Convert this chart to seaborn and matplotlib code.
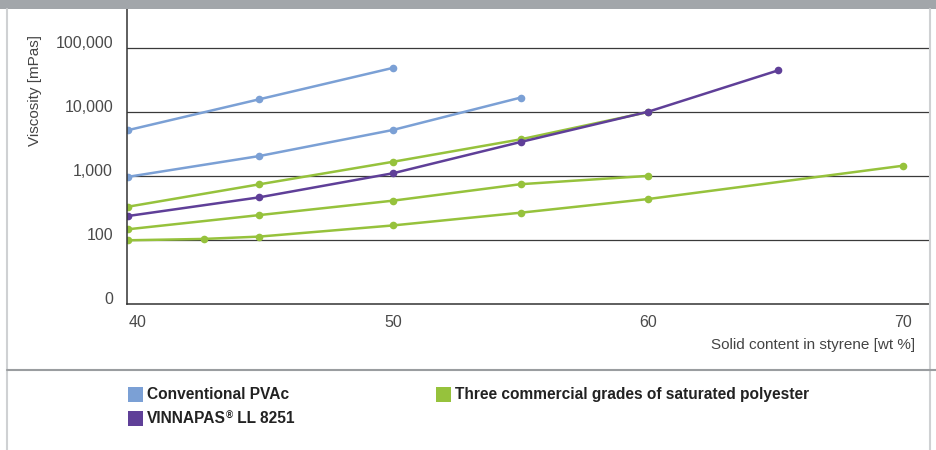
import numpy as np
import pandas as pd
import matplotlib
matplotlib.use("Agg")
import matplotlib.pyplot as plt
import matplotlib.transforms as mtransforms
from matplotlib.patches import Rectangle
from matplotlib.lines import Line2D
import seaborn as sns

# ---- data ----
pvac_1_x = [39.6, 44.75, 50]
pvac_1_y = [5200, 15800, 49000]
pvac_2_x = [39.6, 44.75, 50, 55]
pvac_2_y = [970, 2050, 5250, 16800]
vinn_x = [39.6, 44.75, 50, 55, 60, 65.1]
vinn_y = [237, 464, 1105, 3400, 10100, 44800]
poly_a_x = [39.6, 44.75, 50, 55, 60]
poly_a_y = [331, 741, 1670, 3740, 10000]
poly_b_x = [39.6, 44.75, 50, 55, 60]
poly_b_y = [147, 245, 412, 745, 1005]
poly_c_x = [39.6, 42.6, 44.75, 50, 55, 60, 70]
poly_c_y = [99, 104, 113, 169, 267, 437, 1450]

x_ticks = [40, 50, 60, 70]
y_ticks = [10, 100, 1000, 10000, 100000]
y_tick_labels = ["0", "100", "1,000", "10,000", "100,000"]

legend_labels = ["Conventional PVAc", ("VINNAPAS", "\u00ae", " LL 8251"),
                 "Three commercial grades of saturated polyester"]
colors = {"pvac": "#7ba0d5", "vinn": "#5f3f98", "poly": "#96c23c"}

frames = []
for name, grp, xs, ys in [
    ("pvac1", "pvac", pvac_1_x, pvac_1_y),
    ("pvac2", "pvac", pvac_2_x, pvac_2_y),
    ("polya", "poly", poly_a_x, poly_a_y),
    ("polyb", "poly", poly_b_x, poly_b_y),
    ("polyc", "poly", poly_c_x, poly_c_y),
    ("vinn", "vinn", vinn_x, vinn_y),
]:
    frames.append(pd.DataFrame({"x": xs, "y": ys, "series": name, "group": grp}))
df = pd.concat(frames, ignore_index=True)

sns.set_theme(style="white")
plt.rcParams["font.family"] = ["Liberation Sans", "DejaVu Sans"]

W, H = 936, 450
fig = plt.figure(figsize=(W / 100, H / 100), dpi=100)
fig.patch.set_facecolor("white")

left, right, top, bottom = 127, 930, 9, 304
ax = fig.add_axes([left / W, 1 - bottom / H, (right - left) / W, (bottom - top) / H])
ax.set_facecolor("white")

for grp in ["pvac", "poly", "vinn"]:
    sub = df[df["group"] == grp]
    sns.lineplot(data=sub, x="x", y="y", units="series", estimator=None,
                 color=colors[grp], marker="o", markersize=5.5,
                 markeredgewidth=0, linewidth=1.8, ax=ax, legend=False,
                 sort=False)

ax.set_yscale("log")
ax.set_ylim(10, 10 ** 5.61)
ax.set_xlim(39.57, 71.05)

for v in [100, 1000, 10000, 100000]:
    ax.axhline(v, color="#3a3a3a", linewidth=0.9, zorder=0)

ax.set_yticks(y_ticks)
ax.set_yticklabels(y_tick_labels)
ax.yaxis.set_minor_locator(matplotlib.ticker.NullLocator())
ax.set_xticks(x_ticks)
ax.set_xticklabels([str(t) for t in x_ticks])
ax.tick_params(axis="both", length=0, labelsize=11.5, labelcolor="#4a4a4a")
ax.tick_params(axis="y", pad=10)
ax.tick_params(axis="x", pad=8)

offset = mtransforms.ScaledTranslation(0, 6 / 100, fig.dpi_scale_trans)
for lab in ax.get_yticklabels():
    lab.set_transform(lab.get_transform() + offset)

ax.set_xlabel("")
ax.set_ylabel("")
for s in ["top", "right"]:
    ax.spines[s].set_visible(False)
for s in ["left", "bottom"]:
    ax.spines[s].set_color("#333333")
    ax.spines[s].set_linewidth(1.1)

# axis titles
fig.text(915 / W, 1 - 345 / H, "Solid content in styrene [wt %]", ha="right",
         va="center", fontsize=11, color="#444444")
fig.text(35 / W, 1 - 91 / H, "Viscosity [mPas]", rotation=90, ha="center",
         va="center", fontsize=11, color="#444444")

# panel decorations: header bar, side borders, separator
fig.add_artist(Rectangle((0, 1 - 8.5 / H), 1, 8.5 / H, transform=fig.transFigure,
                         facecolor="#a2a6aa", edgecolor="none"))
fig.add_artist(Line2D([6.5 / W, 6.5 / W], [0, 1 - 8.5 / H], transform=fig.transFigure,
                      color="#cfd1d3", linewidth=1.5))
fig.add_artist(Line2D([929.5 / W, 929.5 / W], [0, 1 - 8.5 / H], transform=fig.transFigure,
                      color="#cfd1d3", linewidth=1.5))
fig.add_artist(Line2D([6.5 / W, 1], [1 - 369.5 / H, 1 - 369.5 / H], transform=fig.transFigure,
                      color="#9a9da0", linewidth=1.5))

# legend
renderer = fig.canvas.get_renderer()
leg_items = [
    (128, 387, colors["pvac"], legend_labels[0]),
    (128, 411, colors["vinn"], legend_labels[1]),
    (436, 387, colors["poly"], legend_labels[2]),
]
for x0, y0, c, txt in leg_items:
    fig.add_artist(Rectangle((x0 / W, 1 - (y0 + 15) / H), 15 / W, 15 / H,
                             transform=fig.transFigure, facecolor=c, edgecolor="none"))
    base_y = 1 - (y0 + 12) / H
    if isinstance(txt, tuple):
        xpos = (x0 + 19) / W
        sizes = [11.2, 7, 11.2]
        raises = [0, 4, 0]
        for part, fs, rz in zip(txt, sizes, raises):
            t = fig.text(xpos, base_y + rz / H, part, ha="left", va="baseline",
                         fontsize=fs, fontweight="bold", color="#222222")
            bb = t.get_window_extent(renderer=renderer)
            xpos = bb.x1 / W
    else:
        fig.text((x0 + 19) / W, base_y, txt, ha="left", va="baseline",
                 fontsize=11.2, fontweight="bold", color="#222222")

fig.savefig("out.png", dpi=100, facecolor="white")
